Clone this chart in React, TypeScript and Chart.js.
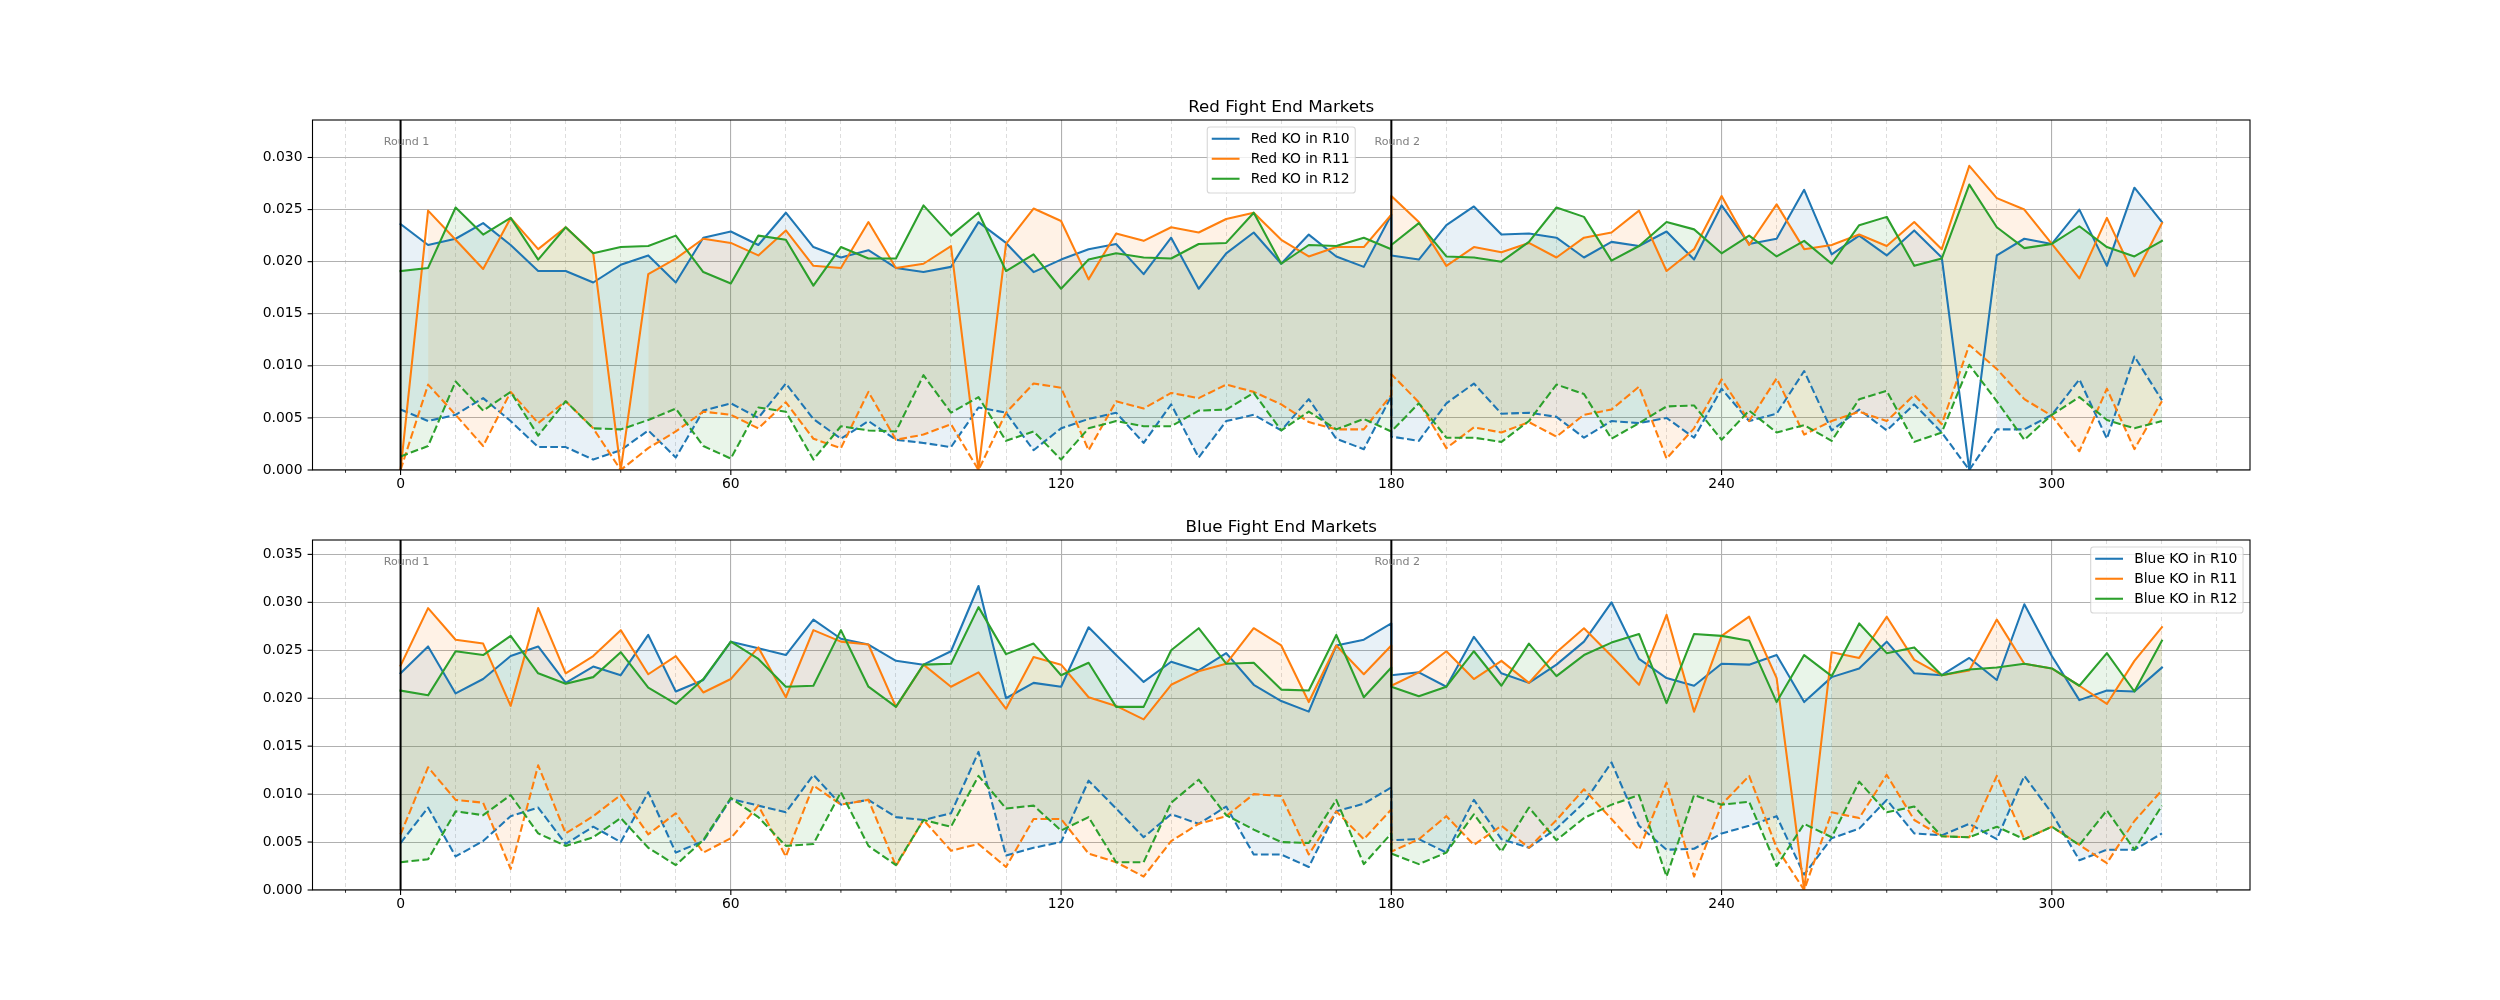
import React, { useEffect, useRef } from "react";
import { Chart, registerables } from "chart.js";

Chart.register(...registerables);

// ---------------- data ----------------
// Round 1 runs 0..180, Round 2 restarts at 180 and runs to 320 (step 5)
const TIMES = [
  0, 5, 10, 15, 20, 25, 30, 35, 40, 45, 50, 55, 60, 65, 70, 75, 80, 85, 90, 95,
  100, 105, 110, 115, 120, 125, 130, 135, 140, 145, 150, 155, 160, 165, 170, 175, 180,
  180, 185, 190, 195, 200, 205, 210, 215, 220, 225, 230, 235, 240, 245, 250, 255,
  260, 265, 270, 275, 280, 285, 290, 295, 300, 305, 310, 315, 320,
];

const ROUND_STARTS = [0, 180];
const ROUND_LABELS = ["Round 1", "Round 2"];

const X_MIN = -16;
const X_MAX = 336;
const X_TICKS = [-10, 0, 10, 20, 30, 40, 50, 60, 70, 80, 90, 100, 110, 120, 130, 140, 150, 160, 170, 180,
  190, 200, 210, 220, 230, 240, 250, 260, 270, 280, 290, 300, 310, 320, 330];
const X_MAJOR_STEP = 60;

const RED_Y_MAX = 0.0336;
const RED_Y_TICKS = [0, 0.005, 0.01, 0.015, 0.02, 0.025, 0.03];
const BLUE_Y_MAX = 0.0365;
const BLUE_Y_TICKS = [0, 0.005, 0.01, 0.015, 0.02, 0.025, 0.03, 0.035];

// Red fight end markets
const RED_R10_UPPER = [
  0.0236, 0.0216, 0.0222, 0.0237, 0.0216, 0.0191, 0.0191, 0.0180, 0.0197, 0.0206, 0.0180, 0.0223, 0.0229, 0.0216, 0.0247, 0.0214, 0.0204, 0.0211, 0.0194, 0.0190, 0.0195, 0.0238, 0.0218, 0.0190, 0.0202, 0.0212, 0.0217, 0.0188, 0.0223, 0.0174, 0.0208, 0.0228, 0.0198, 0.0226, 0.0205, 0.0195, 0.0245,
  0.0206, 0.0202, 0.0235, 0.0253, 0.0226, 0.0227, 0.0223, 0.0204, 0.0219, 0.0215, 0.0229, 0.0202, 0.0254, 0.0217, 0.0222, 0.0269, 0.0207, 0.0225, 0.0206, 0.0230, 0.0204, 0.0, 0.0206, 0.0222, 0.0217, 0.0250, 0.0196, 0.0271, 0.0238,
];
const RED_R10_LOWER = [
  0.0058, 0.0047, 0.0053, 0.0069, 0.0047, 0.0022, 0.0022, 0.0010, 0.0019, 0.0038, 0.0012, 0.0057, 0.0064, 0.0050, 0.0083, 0.0049, 0.0030, 0.0047, 0.0029, 0.0026, 0.0022, 0.0060, 0.0055, 0.0019, 0.0040, 0.0049, 0.0055, 0.0026, 0.0063, 0.0012, 0.0047, 0.0053, 0.0038, 0.0068, 0.0030, 0.0020, 0.0071,
  0.0032, 0.0028, 0.0064, 0.0083, 0.0054, 0.0055, 0.0051, 0.0031, 0.0047, 0.0045, 0.0050, 0.0031, 0.0078, 0.0047, 0.0054, 0.0095, 0.0038, 0.0058, 0.0038, 0.0063, 0.0036, 0.0, 0.0039, 0.0039, 0.0053, 0.0087, 0.0030, 0.0109, 0.0067,
];
const RED_R11_UPPER = [
  0.0, 0.0249, 0.0221, 0.0193, 0.0242, 0.0212, 0.0233, 0.0208, 0.0, 0.0188, 0.0203, 0.0222, 0.0218, 0.0206, 0.0230, 0.0196, 0.0194, 0.0238, 0.0194, 0.0198, 0.0215, 0.0, 0.0217, 0.0251, 0.0239, 0.0183, 0.0227, 0.0220, 0.0233, 0.0228, 0.0241, 0.0247, 0.0221, 0.0205, 0.0214, 0.0214, 0.0245,
  0.0263, 0.0238, 0.0196, 0.0214, 0.0209, 0.0218, 0.0204, 0.0223, 0.0228, 0.0249, 0.0191, 0.0212, 0.0263, 0.0216, 0.0255, 0.0212, 0.0216, 0.0226, 0.0215, 0.0238, 0.0212, 0.0292, 0.0261, 0.0250, 0.0217, 0.0184, 0.0242, 0.0186, 0.0237,
];
const RED_R11_LOWER = [
  0.0, 0.0082, 0.0053, 0.0023, 0.0075, 0.0045, 0.0066, 0.0040, 0.0, 0.0021, 0.0037, 0.0056, 0.0053, 0.0040, 0.0065, 0.0030, 0.0021, 0.0075, 0.0029, 0.0034, 0.0044, 0.0, 0.0055, 0.0083, 0.0079, 0.0019, 0.0066, 0.0059, 0.0074, 0.0069, 0.0082, 0.0075, 0.0063, 0.0046, 0.0039, 0.0039, 0.0072,
  0.0092, 0.0065, 0.0021, 0.0041, 0.0036, 0.0046, 0.0032, 0.0053, 0.0058, 0.0080, 0.0011, 0.0040, 0.0087, 0.0047, 0.0088, 0.0034, 0.0047, 0.0056, 0.0047, 0.0072, 0.0044, 0.0120, 0.0097, 0.0068, 0.0052, 0.0018, 0.0078, 0.0020, 0.0066,
];
const RED_R12_UPPER = [
  0.0191, 0.0194, 0.0252, 0.0226, 0.0242, 0.0202, 0.0233, 0.0208, 0.0214, 0.0215, 0.0225, 0.0190, 0.0179, 0.0225, 0.0221, 0.0177, 0.0214, 0.0203, 0.0203, 0.0254, 0.0225, 0.0247, 0.0191, 0.0207, 0.0174, 0.0202, 0.0208, 0.0204, 0.0203, 0.0217, 0.0218, 0.0247, 0.0198, 0.0216, 0.0215, 0.0223, 0.0212,
  0.0216, 0.0237, 0.0205, 0.0204, 0.0200, 0.0219, 0.0252, 0.0243, 0.0201, 0.0215, 0.0238, 0.0231, 0.0208, 0.0225, 0.0205, 0.0220, 0.0198, 0.0235, 0.0243, 0.0196, 0.0203, 0.0274, 0.0233, 0.0213, 0.0217, 0.0234, 0.0214, 0.0205, 0.0220,
];
const RED_R12_LOWER = [
  0.0013, 0.0023, 0.0085, 0.0057, 0.0075, 0.0033, 0.0066, 0.0040, 0.0039, 0.0048, 0.0059, 0.0023, 0.0011, 0.0060, 0.0056, 0.0010, 0.0042, 0.0038, 0.0037, 0.0091, 0.0055, 0.0070, 0.0028, 0.0037, 0.0010, 0.0040, 0.0047, 0.0042, 0.0042, 0.0057, 0.0058, 0.0074, 0.0038, 0.0056, 0.0039, 0.0049, 0.0037,
  0.0037, 0.0064, 0.0031, 0.0031, 0.0027, 0.0047, 0.0082, 0.0073, 0.0030, 0.0045, 0.0061, 0.0062, 0.0029, 0.0057, 0.0036, 0.0043, 0.0028, 0.0068, 0.0076, 0.0027, 0.0036, 0.0101, 0.0066, 0.0029, 0.0053, 0.0070, 0.0048, 0.0040, 0.0047,
];

// Blue fight end markets
const BLUE_R10_UPPER = [
  0.0226, 0.0254, 0.0205, 0.0220, 0.0244, 0.0254, 0.0216, 0.0233, 0.0224, 0.0266, 0.0207, 0.0219, 0.0259, 0.0252, 0.0245, 0.0282, 0.0262, 0.0256, 0.0239, 0.0235, 0.0249, 0.0317, 0.0200, 0.0216, 0.0212, 0.0274, 0.0245, 0.0217, 0.0238, 0.0229, 0.0247, 0.0214, 0.0197, 0.0186, 0.0255, 0.0261, 0.0278,
  0.0224, 0.0227, 0.0212, 0.0264, 0.0226, 0.0216, 0.0235, 0.0259, 0.0300, 0.0241, 0.0221, 0.0213, 0.0236, 0.0235, 0.0245, 0.0196, 0.0222, 0.0231, 0.0259, 0.0226, 0.0224, 0.0242, 0.0219, 0.0298, 0.0244, 0.0198, 0.0208, 0.0207, 0.0232,
];
const BLUE_R10_LOWER = [
  0.0049, 0.0086, 0.0035, 0.0051, 0.0077, 0.0086, 0.0048, 0.0066, 0.0050, 0.0102, 0.0039, 0.0051, 0.0095, 0.0088, 0.0081, 0.0120, 0.0089, 0.0094, 0.0076, 0.0073, 0.0080, 0.0144, 0.0036, 0.0044, 0.0050, 0.0114, 0.0085, 0.0055, 0.0079, 0.0069, 0.0087, 0.0037, 0.0037, 0.0024, 0.0082, 0.0090, 0.0107,
  0.0052, 0.0053, 0.0039, 0.0094, 0.0053, 0.0044, 0.0064, 0.0091, 0.0133, 0.0067, 0.0042, 0.0043, 0.0059, 0.0067, 0.0077, 0.0016, 0.0054, 0.0064, 0.0094, 0.0059, 0.0057, 0.0069, 0.0053, 0.0119, 0.0080, 0.0031, 0.0042, 0.0042, 0.0059,
];
const BLUE_R11_UPPER = [
  0.0234, 0.0294, 0.0261, 0.0257, 0.0192, 0.0294, 0.0226, 0.0244, 0.0271, 0.0225, 0.0244, 0.0206, 0.0220, 0.0253, 0.0201, 0.0271, 0.0259, 0.0256, 0.0191, 0.0235, 0.0212, 0.0227, 0.0189, 0.0243, 0.0235, 0.0201, 0.0192, 0.0178, 0.0214, 0.0228, 0.0236, 0.0273, 0.0255, 0.0196, 0.0255, 0.0225, 0.0255,
  0.0213, 0.0227, 0.0249, 0.0220, 0.0239, 0.0216, 0.0248, 0.0273, 0.0244, 0.0214, 0.0287, 0.0186, 0.0265, 0.0285, 0.0221, 0.0, 0.0248, 0.0242, 0.0285, 0.0240, 0.0224, 0.0229, 0.0282, 0.0236, 0.0231, 0.0213, 0.0194, 0.0239, 0.0274,
];
const BLUE_R11_LOWER = [
  0.0058, 0.0128, 0.0094, 0.0091, 0.0022, 0.0130, 0.0059, 0.0077, 0.0099, 0.0058, 0.0080, 0.0039, 0.0054, 0.0088, 0.0035, 0.0109, 0.0089, 0.0094, 0.0025, 0.0073, 0.0041, 0.0048, 0.0024, 0.0074, 0.0074, 0.0038, 0.0029, 0.0014, 0.0051, 0.0069, 0.0077, 0.0100, 0.0098, 0.0037, 0.0082, 0.0053, 0.0084,
  0.0040, 0.0053, 0.0077, 0.0047, 0.0067, 0.0044, 0.0073, 0.0105, 0.0074, 0.0042, 0.0112, 0.0014, 0.0089, 0.0119, 0.0044, 0.0, 0.0081, 0.0075, 0.0120, 0.0073, 0.0056, 0.0055, 0.0119, 0.0053, 0.0066, 0.0047, 0.0028, 0.0072, 0.0104,
];
const BLUE_R12_UPPER = [
  0.0208, 0.0203, 0.0249, 0.0245, 0.0265, 0.0226, 0.0215, 0.0222, 0.0248, 0.0211, 0.0194, 0.0220, 0.0259, 0.0241, 0.0212, 0.0213, 0.0271, 0.0212, 0.0191, 0.0235, 0.0236, 0.0295, 0.0246, 0.0257, 0.0224, 0.0237, 0.0191, 0.0191, 0.0250, 0.0273, 0.0236, 0.0237, 0.0209, 0.0208, 0.0266, 0.0201, 0.0232,
  0.0212, 0.0202, 0.0212, 0.0249, 0.0213, 0.0257, 0.0223, 0.0245, 0.0258, 0.0267, 0.0195, 0.0267, 0.0265, 0.0260, 0.0196, 0.0245, 0.0223, 0.0278, 0.0247, 0.0253, 0.0224, 0.0230, 0.0232, 0.0236, 0.0231, 0.0213, 0.0247, 0.0207, 0.0260,
];
const BLUE_R12_LOWER = [
  0.0029, 0.0032, 0.0082, 0.0078, 0.0099, 0.0059, 0.0046, 0.0055, 0.0075, 0.0044, 0.0026, 0.0052, 0.0096, 0.0076, 0.0046, 0.0048, 0.0102, 0.0046, 0.0026, 0.0073, 0.0066, 0.0119, 0.0085, 0.0088, 0.0062, 0.0076, 0.0029, 0.0029, 0.0091, 0.0115, 0.0078, 0.0063, 0.0050, 0.0049, 0.0094, 0.0027, 0.0059,
  0.0038, 0.0027, 0.0039, 0.0079, 0.0040, 0.0086, 0.0052, 0.0075, 0.0089, 0.0099, 0.0014, 0.0099, 0.0089, 0.0092, 0.0025, 0.0069, 0.0055, 0.0113, 0.0081, 0.0087, 0.0056, 0.0055, 0.0066, 0.0053, 0.0066, 0.0047, 0.0083, 0.0042, 0.0088,
];

const C_BLUE = "#1f77b4";
const C_ORANGE = "#ff7f0e";
const C_GREEN = "#2ca02c";

// ---------------- styling ----------------
const FONT = "'DejaVu Sans', 'Liberation Sans', sans-serif";
const LINE_W = 2.08;
const DASH = [7.7, 3.3];
const MAJOR_GRID = "#b0b0b0";
const MINOR_GRID = "#d4d4d4";

type Series = { label: string; color: string; upper: number[]; lower: number[] };

function rgba(hex: string, a: number) {
  const n = parseInt(hex.slice(1), 16);
  return `rgba(${(n >> 16) & 255},${(n >> 8) & 255},${n & 255},${a})`;
}

function buildDatasets(series: Series[]) {
  const ds: any[] = [];
  series.forEach((s, k) => {
    const pts = (arr: number[]) => TIMES.map((t, i) => ({ x: t, y: arr[i] }));
    const masked = (arr: number[]) =>
      TIMES.map((t, i) => ({ x: t, y: s.upper[i] > s.lower[i] ? arr[i] : null }));
    const fillOrder = 100 - k * 10;
    ds.push({
      label: s.label, data: pts(s.upper), borderColor: s.color, borderWidth: LINE_W,
      pointRadius: 0, fill: false, order: 10 - 2 * k, borderJoinStyle: "round", borderCapStyle: "square",
    });
    ds.push({
      label: "", data: pts(s.lower), borderColor: s.color, borderWidth: LINE_W, borderDash: DASH,
      pointRadius: 0, fill: false, order: 9 - 2 * k, borderJoinStyle: "round",
    });
    ds.push({
      label: "", data: masked(s.upper), borderColor: "rgba(0,0,0,0)", borderWidth: 0,
      pointRadius: 0, fill: false, order: fillOrder, spanGaps: false,
    });
    ds.push({
      label: "", data: masked(s.lower), borderColor: "rgba(0,0,0,0)", borderWidth: 0,
      pointRadius: 0, fill: "-1", backgroundColor: rgba(s.color, 0.1), order: fillOrder - 1, spanGaps: false,
    });
  });
  return ds;
}

const decorPlugin = {
  id: "decor",
  afterDatasetsDraw(chart: any, _args: any, opts: any) {
    const { ctx, chartArea: a, scales } = chart;
    const xs = scales.x;
    const ys = scales.y;
    ctx.save();

    // round separators
    ctx.strokeStyle = "#000";
    ctx.lineWidth = 2;
    ROUND_STARTS.forEach((r) => {
      const px = xs.getPixelForValue(r);
      ctx.beginPath();
      ctx.moveTo(px, a.top);
      ctx.lineTo(px, a.bottom);
      ctx.stroke();
    });

    // round labels
    ctx.fillStyle = "#808080";
    ctx.font = `11.1px ${FONT}`;
    ctx.textAlign = "center";
    ctx.textBaseline = "middle";
    ROUND_STARTS.forEach((r, k) => {
      ctx.fillText(ROUND_LABELS[k], xs.getPixelForValue(r) + 6, ys.getPixelForValue(opts.yMax * 0.937));
    });

    // spines
    ctx.strokeStyle = "#000";
    ctx.lineWidth = 1.1;
    ctx.strokeRect(a.left, a.top, a.right - a.left, a.bottom - a.top);

    // tick marks
    X_TICKS.forEach((t) => {
      const px = xs.getPixelForValue(t);
      const major = t % X_MAJOR_STEP === 0;
      ctx.lineWidth = major ? 1.1 : 0.83;
      ctx.beginPath();
      ctx.moveTo(px, a.bottom);
      ctx.lineTo(px, a.bottom + (major ? 4.9 : 2.8));
      ctx.stroke();
    });
    ctx.lineWidth = 1.1;
    (opts.yTicks as number[]).forEach((t) => {
      const py = ys.getPixelForValue(t);
      ctx.beginPath();
      ctx.moveTo(a.left, py);
      ctx.lineTo(a.left - 4.9, py);
      ctx.stroke();
    });

    // legend
    const entries = (opts.series as Series[]).map((s) => ({ label: s.label, color: s.color }));
    const fs = 13.9;
    ctx.font = `${fs}px ${FONT}`;
    const textW = Math.max(...entries.map((e) => ctx.measureText(e.label).width));
    const w = 43.5 + textW + 5.6;
    const h = 66;
    const left = opts.legendPos === "center" ? (a.left + a.right) / 2 - w / 2 : a.right - 6.95 - w;
    const top = a.top + 6.95;
    const rr = 2.8;
    ctx.beginPath();
    ctx.moveTo(left + rr, top);
    ctx.lineTo(left + w - rr, top);
    ctx.arcTo(left + w, top, left + w, top + rr, rr);
    ctx.lineTo(left + w, top + h - rr);
    ctx.arcTo(left + w, top + h, left + w - rr, top + h, rr);
    ctx.lineTo(left + rr, top + h);
    ctx.arcTo(left, top + h, left, top + h - rr, rr);
    ctx.lineTo(left, top + rr);
    ctx.arcTo(left, top, left + rr, top, rr);
    ctx.closePath();
    ctx.fillStyle = "rgba(255,255,255,0.8)";
    ctx.fill();
    ctx.strokeStyle = "rgba(204,204,204,0.8)";
    ctx.lineWidth = 1.1;
    ctx.stroke();
    entries.forEach((e, k) => {
      const cy = top + 11.8 + k * 20;
      ctx.strokeStyle = e.color;
      ctx.lineWidth = LINE_W;
      ctx.beginPath();
      ctx.moveTo(left + 4.5, cy);
      ctx.lineTo(left + 32.3, cy);
      ctx.stroke();
      ctx.fillStyle = "#000";
      ctx.textAlign = "left";
      ctx.textBaseline = "middle";
      ctx.fillText(e.label, left + 43.5, cy + 1);
    });

    // title
    ctx.fillStyle = "#000";
    ctx.font = `16.7px ${FONT}`;
    ctx.textAlign = "center";
    ctx.textBaseline = "alphabetic";
    ctx.fillText(opts.title, (a.left + a.right) / 2, a.top - 8.3);

    ctx.restore();
  },
};

function makeConfig(title: string, series: Series[], yMax: number, yTicks: number[], legendPos: string, padTop: number, padBottom: number) {
  return {
    type: "line",
    data: { datasets: buildDatasets(series) },
    plugins: [decorPlugin],
    options: {
      animation: false,
      responsive: false,
      devicePixelRatio: 1,
      events: [],
      layout: { padding: { left: 0, right: 250, top: padTop, bottom: padBottom } },
      plugins: {
        legend: { display: false },
        tooltip: { enabled: false },
        title: { display: false },
        decor: { title, series, yMax, yTicks, legendPos },
      },
      scales: {
        x: {
          type: "linear",
          min: X_MIN,
          max: X_MAX,
          afterBuildTicks: (scale: any) => {
            scale.ticks = X_TICKS.map((v) => ({ value: v }));
          },
          afterFit: (scale: any) => {
            scale.height = 30;
          },
          ticks: {
            autoSkip: false,
            maxRotation: 0,
            color: "#000",
            padding: 6.5,
            font: { family: FONT, size: 13.9 },
            callback: (v: number) => (v % X_MAJOR_STEP === 0 ? String(v) : ""),
          },
          grid: {
            drawTicks: false,
            color: (c: any) => (c.tick && c.tick.value % X_MAJOR_STEP !== 0 ? MINOR_GRID : MAJOR_GRID),
            lineWidth: (c: any) => (c.tick && c.tick.value % X_MAJOR_STEP !== 0 ? 0.8 : 1.1),
          },
          border: {
            display: false,
            dash: (c: any) => (c.tick && c.tick.value % X_MAJOR_STEP !== 0 ? [4, 3] : []),
          },
        },
        y: {
          type: "linear",
          min: 0,
          max: yMax,
          afterBuildTicks: (scale: any) => {
            scale.ticks = yTicks.map((v) => ({ value: v }));
          },
          afterFit: (scale: any) => {
            scale.width = 312.5;
          },
          ticks: {
            color: "#000",
            padding: 10,
            font: { family: FONT, size: 13.9 },
            callback: (v: number) => v.toFixed(3),
          },
          grid: { drawTicks: false, color: MAJOR_GRID, lineWidth: 1.1 },
          border: { display: false },
        },
      },
    },
  };
}

const RED_SERIES: Series[] = [
  { label: "Red KO in R10", color: C_BLUE, upper: RED_R10_UPPER, lower: RED_R10_LOWER },
  { label: "Red KO in R11", color: C_ORANGE, upper: RED_R11_UPPER, lower: RED_R11_LOWER },
  { label: "Red KO in R12", color: C_GREEN, upper: RED_R12_UPPER, lower: RED_R12_LOWER },
];
const BLUE_SERIES: Series[] = [
  { label: "Blue KO in R10", color: C_BLUE, upper: BLUE_R10_UPPER, lower: BLUE_R10_LOWER },
  { label: "Blue KO in R11", color: C_ORANGE, upper: BLUE_R11_UPPER, lower: BLUE_R11_LOWER },
  { label: "Blue KO in R12", color: C_GREEN, upper: BLUE_R12_UPPER, lower: BLUE_R12_LOWER },
];

export default function App() {
  const topRef = useRef<HTMLCanvasElement | null>(null);
  const botRef = useRef<HTMLCanvasElement | null>(null);

  useEffect(() => {
    const c1 = new Chart(topRef.current as HTMLCanvasElement,
      makeConfig("Red Fight End Markets", RED_SERIES, RED_Y_MAX, RED_Y_TICKS, "center", 120, 0) as any);
    const c2 = new Chart(botRef.current as HTMLCanvasElement,
      makeConfig("Blue Fight End Markets", BLUE_SERIES, BLUE_Y_MAX, BLUE_Y_TICKS, "right", 40, 80) as any);
    return () => {
      c1.destroy();
      c2.destroy();
    };
  }, []);

  return (
    <div style={{ position: "absolute", left: 0, top: 0, width: 2500, height: 1000, background: "#fff" }}>
      <canvas ref={topRef} width={2500} height={500}
        style={{ position: "absolute", left: 0, top: 0, width: 2500, height: 500 }} />
      <canvas ref={botRef} width={2500} height={500}
        style={{ position: "absolute", left: 0, top: 500, width: 2500, height: 500 }} />
    </div>
  );
}
